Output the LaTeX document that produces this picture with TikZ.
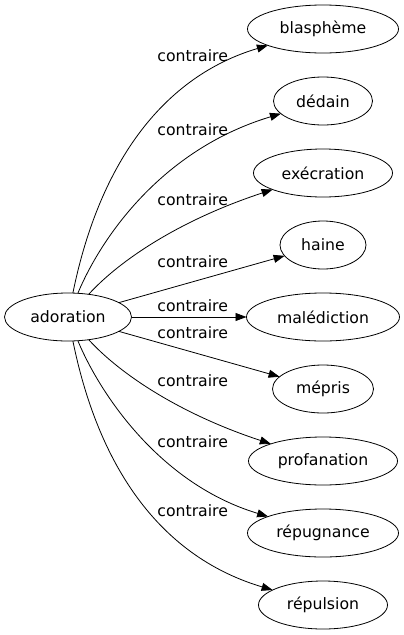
\documentclass[tikz,border=0pt]{standalone}
\usepackage{fontspec}
\setmainfont{DejaVu Sans}
\usetikzlibrary{arrows.meta, shapes.geometric, positioning}

\tikzset{
  mot/.style={draw, ellipse, inner sep=0pt, outer sep=0pt, minimum height=48pt},
  rel/.style={inner sep=0pt, anchor=base west},
  lien/.style={-{Triangle[length=11pt, width=8pt]}}
}

\begin{document}
\begin{tikzpicture}[x=1pt, y=-1pt, line width=0.8pt, font=\fontsize{15.7}{18}\selectfont]
\useasboundingbox (0,0) rectangle (404,635);
\node[mot, minimum width=127pt] (ADO) at (68,317) {adoration};
\node[mot, minimum width=151pt] (BLA) at (323,29) {blasphème};
\node[mot, minimum width=99pt, below=24pt of BLA] (DED) {dédain};
\node[mot, minimum width=139pt, below=24pt of DED] (EXE) {exécration};
\node[mot, minimum width=86pt, below=24pt of EXE] (HAI) {haine};
\node[mot, minimum width=153pt, below=24pt of HAI] (MAL) {malédiction};
\node[mot, minimum width=101pt, below=24pt of MAL] (MEP) {mépris};
\node[mot, minimum width=149pt, below=24pt of MEP] (PRO) {profanation};
\node[mot, minimum width=151pt, below=24pt of PRO] (REPG) {répugnance};
\node[mot, minimum width=129pt, below=24pt of REPG] (REPL) {répulsion};
% labels
\node[rel] (cBLA) at (157,61) {contraire};
\node[rel] (cDED) at (157,135.5) {contraire};
\node[rel] (cEXE) at (157,205.5) {contraire};
\node[rel] (cHAI) at (157,267) {contraire};
\node[rel] (cMAL) at (157,311.7) {contraire};
\node[rel] (cMEP) at (157,338) {contraire};
\node[rel] (cPRO) at (157,386.7) {contraire};
\node[rel] (cREPG) at (157,447) {contraire};
\node[rel] (cREPL) at (157,516.7) {contraire};
% edges
\draw[lien] (ADO) .. controls (100,160) and (165,76) .. (BLA);
\draw[lien] (ADO) .. controls (100,240) and (160,150) .. (DED);
\draw[lien] (ADO) .. controls (120,260) and (180,220) .. (EXE);
\draw[lien] (ADO) -- (HAI);
\draw[lien] (ADO) -- (MAL);
\draw[lien] (ADO) -- (MEP);
\draw[lien] (ADO) .. controls (120,374) and (180,414) .. (PRO);
\draw[lien] (ADO) .. controls (100,394) and (160,484) .. (REPG);
\draw[lien] (ADO) .. controls (100,474) and (165,558) .. (REPL);
\end{tikzpicture}
\end{document}
